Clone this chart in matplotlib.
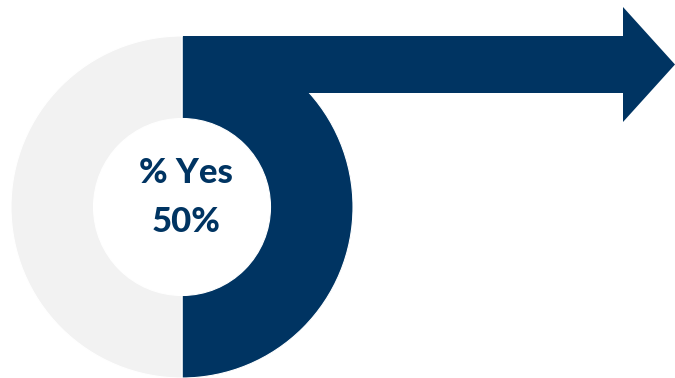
import matplotlib.pyplot as plt
from matplotlib.patches import Polygon

labels = ['Yes', 'No']
values = [50, 50]
colors = ['#003462', '#F2F2F2']
title_text = '% Yes'
pct_text = '50%'

fig = plt.figure(figsize=(6.75, 3.78), dpi=100)
ax = fig.add_axes([0, 0, 1, 1])

# donut
ax.pie(values, colors=colors, startangle=90, counterclock=False,
       center=(182, 171), radius=171,
       wedgeprops=dict(width=82.5, edgecolor='white', linewidth=0.8))

# arrow leaving the top of the donut
arrow = Polygon([(183, 342), (623, 342), (623, 371), (675, 313.5),
                 (623, 256), (623, 285), (183, 285)],
                closed=True, facecolor=colors[0], edgecolor='none')
ax.add_patch(arrow)

ax.text(186, 205, title_text, ha='center', va='center', fontsize=25,
        fontweight=900, color=colors[0], family='Lato')
ax.text(186, 156, pct_text, ha='center', va='center', fontsize=25,
        fontweight=900, color=colors[0], family='Lato')

ax.set_xlim(0, 675)
ax.set_ylim(0, 378)
ax.set_aspect('equal')
ax.axis('off')

fig.savefig('out.png', dpi=100)
